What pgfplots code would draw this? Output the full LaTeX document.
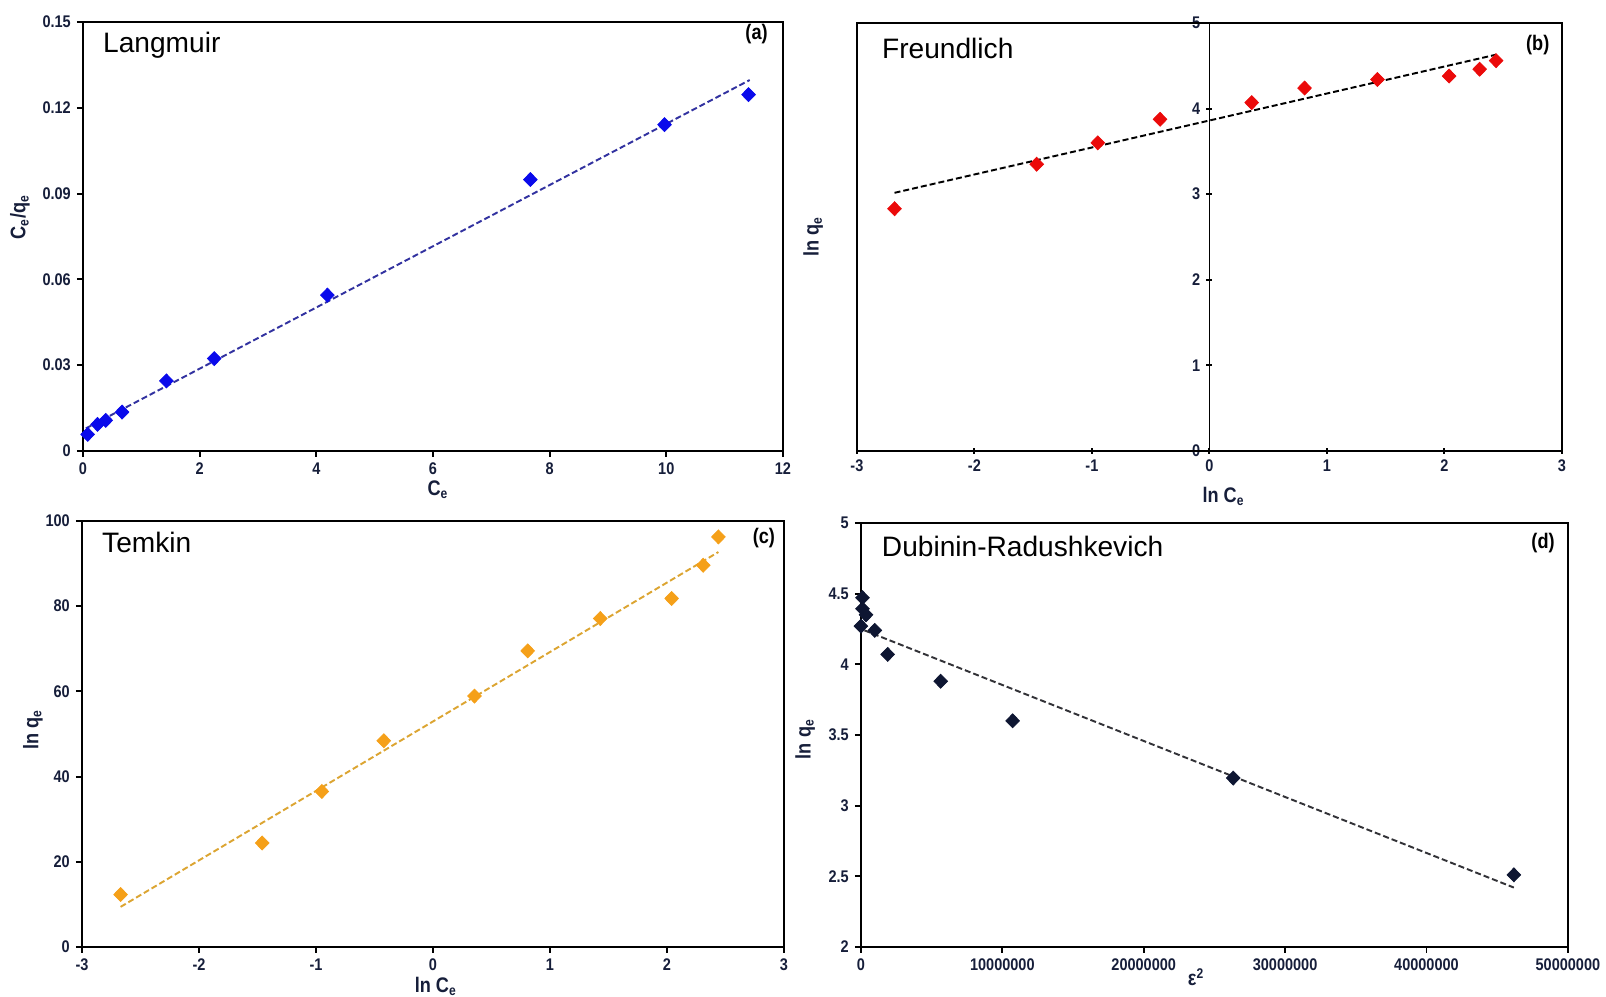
\documentclass[border=0pt]{standalone}
\usepackage{fontspec}
\setmainfont{Liberation Sans}
\newfontfamily\narrow[FakeStretch=0.86]{Liberation Sans}
\usepackage{pgfplots}
\pgfplotsset{compat=1.18}

\definecolor{ticknavy}{RGB}{22,30,58}
\definecolor{lmblue}{RGB}{10,10,235}
\definecolor{lmline}{RGB}{50,50,160}
\definecolor{frred}{RGB}{235,10,10}
\definecolor{tkorange}{RGB}{245,160,25}
\definecolor{tkline}{RGB}{220,165,50}
\definecolor{drnavy}{RGB}{14,22,50}
\definecolor{drline}{RGB}{50,50,55}

\newcommand{\lblfont}{\narrow\bfseries\fontsize{12}{14}\selectfont}
\newcommand{\ttl}{\fontsize{16}{18}\selectfont}
\newcommand{\tag}{\narrow\bfseries\fontsize{12}{14}\selectfont}

\tikzset{lbl/.style={font=\lblfont, text=ticknavy, anchor=center, inner sep=0pt}}

% 1 px of the reference = 0.02cm
\pgfplotsset{
  panel/.style={
    scale only axis,
    axis line style={line width=1.5pt},
    tick style={line width=1.1pt, black},
    major tick length=0.12cm,
    tick align=outside,
    tick label style={font=\narrow\bfseries\fontsize{9.6}{11}\selectfont, text=ticknavy},
    /pgf/number format/assume math mode=true,
    scaled ticks=false,
    clip=false,
  },
  fit/.style={line width=1.1pt, dash pattern=on 1.2mm off 0.6mm},
  pts/.style={only marks, mark=diamond*, mark size=4pt, mark options={xscale=1.3}},
}

\begin{document}
\begin{tikzpicture}
\path (0,0) rectangle (32.12cm,19.94cm);

% (a) Langmuir
\begin{axis}[panel,
  at={(1.66cm,10.92cm)}, anchor=south west,
  width=14cm, height=8.58cm,
  xtick pos=bottom, ytick pos=left,
  xmin=0, xmax=12, ymin=0, ymax=0.15,
  xtick={0,2,...,12}, xticklabels={0,2,4,6,8,10,12},
  ytick={0,0.03,0.06,0.09,0.12,0.15},
  yticklabels={0,0.03,0.06,0.09,0.12,0.15},
  xlabel={C\textsubscript{e}}, ylabel={C\textsubscript{e}/q\textsubscript{e}},
  xlabel style={lbl, at={(axis description cs:0.507,-0.09)}},
  ylabel style={lbl, at={(axis description cs:-0.09,0.545)}},
]
  \addplot[fit, color=lmline] coordinates {(0.05,0.0079) (11.43,0.1297)};
  \addplot[pts, color=lmblue] coordinates {
    (0.08,0.0058) (0.25,0.0093) (0.39,0.0107) (0.67,0.0136) (1.43,0.0245)
    (2.25,0.0323) (4.19,0.0545) (7.67,0.0949) (9.97,0.1141) (11.41,0.1246)
  };
  \node[anchor=base west, font=\ttl] at (axis description cs:0.02,0.928) {Langmuir};
  \node[anchor=east, font=\tag] at (axis description cs:0.987,0.972) {(a)};
\end{axis}

% (b) Freundlich
\begin{axis}[panel,
  at={(17.14cm,10.92cm)}, anchor=south west,
  width=14.1cm, height=8.56cm,
  axis x line=bottom, axis y line=middle,
  axis line style={-},
  hide obscured y ticks=false,
  xmin=-3, xmax=3, ymin=0, ymax=5,
  xtick={-3,...,3}, xticklabels={-3,-2,-1,0,1,2,3},
  ytick={0,...,5}, yticklabels={0,1,2,3,4,5},
  y axis line style={line width=1pt},
  xlabel={ln C\textsubscript{e}}, ylabel={ln q\textsubscript{e}},
  xlabel style={lbl, at={(axis description cs:0.52,-0.107)}},
  ylabel style={lbl, rotate=90, at={(axis description cs:-0.062,0.5)}},
]
  \draw[line width=1.5pt] (rel axis cs:0,0) rectangle (rel axis cs:1,1);
  \addplot[fit, color=black] coordinates {(-2.68,3.016) (2.44,4.63)};
  \addplot[pts, color=frred] coordinates {
    (-2.68,2.83) (-1.47,3.35) (-0.95,3.60) (-0.42,3.875) (0.36,4.07)
    (0.81,4.24) (1.43,4.34) (2.04,4.38) (2.30,4.46) (2.44,4.56)
  };
  \node[anchor=base west, font=\ttl] at (axis description cs:0.027,0.918) {Freundlich};
  \node[anchor=east, font=\tag] at (axis description cs:0.991,0.949) {(b)};
\end{axis}

% (c) Temkin
\begin{axis}[panel,
  at={(1.64cm,1.0cm)}, anchor=south west,
  width=14.04cm, height=8.52cm,
  xtick pos=bottom, ytick pos=left,
  xmin=-3, xmax=3, ymin=0, ymax=100,
  xtick={-3,...,3}, xticklabels={-3,-2,-1,0,1,2,3},
  ytick={0,20,...,100}, yticklabels={0,20,40,60,80,100},
  xlabel={ln C\textsubscript{e}}, ylabel={ln q\textsubscript{e}},
  xlabel style={lbl, at={(axis description cs:0.504,-0.092)}},
  ylabel style={lbl, at={(axis description cs:-0.07,0.51)}},
]
  \addplot[fit, color=tkline] coordinates {(-2.67,9.4) (2.44,92.7)};
  \addplot[pts, color=tkorange] coordinates {
    (-2.67,12.3) (-1.46,24.4) (-0.95,36.5) (-0.42,48.4) (0.355,58.9)
    (0.81,69.5) (1.43,77.1) (2.04,81.8) (2.31,89.6) (2.44,96.25)
  };
  \node[anchor=base west, font=\ttl] at (axis description cs:0.02,0.925) {Temkin};
  \node[anchor=east, font=\tag] at (axis description cs:0.996,0.96) {(c)};
\end{axis}

% (d) Dubinin-Radushkevich
\begin{axis}[panel,
  at={(17.22cm,1.0cm)}, anchor=south west,
  width=14.14cm, height=8.48cm,
  xtick pos=bottom, ytick pos=left,
  xmin=0, xmax=50000000, ymin=2, ymax=5,
  xtick={0,10000000,20000000,30000000,40000000,50000000},
  xticklabels={0,10000000,20000000,30000000,40000000,50000000},
  ytick={2,2.5,3,3.5,4,4.5,5}, yticklabels={2,2.5,3,3.5,4,4.5,5},
  xlabel={ε\textsuperscript{2}}, ylabel={ln q\textsubscript{e}},
  xlabel style={lbl, at={(axis description cs:0.474,-0.071)}},
  ylabel style={lbl, at={(axis description cs:-0.079,0.49)}},
]
  \addplot[fit, color=drline] coordinates {(250000,4.24) (46180000,2.42)};
  \addplot[pts, color=drnavy] coordinates {
    (110000,4.471) (110000,4.393) (360000,4.35) (0,4.27) (980000,4.24)
    (1890000,4.07) (5640000,3.88) (10730000,3.60) (26330000,3.195) (46180000,2.51)
  };
  \node[anchor=base west, font=\ttl] at (axis description cs:0.021,0.92) {Dubinin-Radushkevich};
  \node[anchor=east, font=\tag] at (axis description cs:0.99,0.953) {(d)};
\end{axis}
\end{tikzpicture}
\end{document}
